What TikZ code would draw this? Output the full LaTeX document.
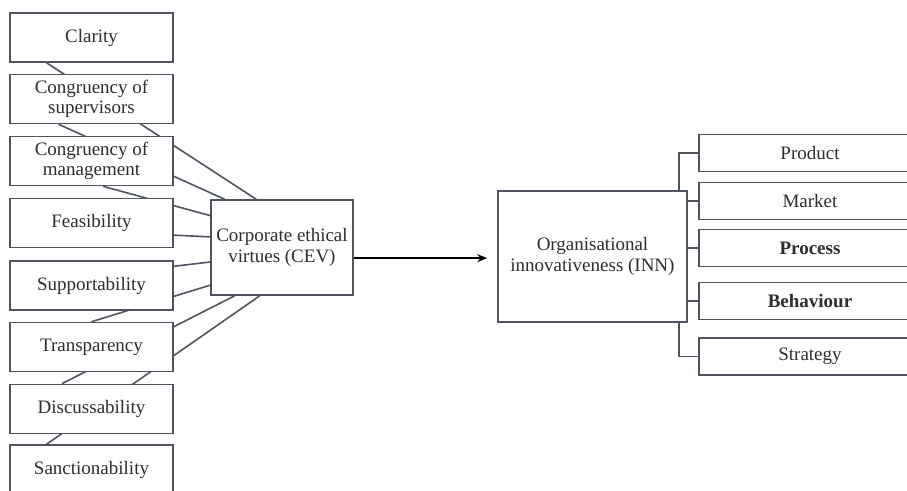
\documentclass[tikz,border=0pt]{standalone}
\usepackage{fontspec}
\setmainfont{Liberation Serif}
\usetikzlibrary{calc,backgrounds,arrows.meta}
\definecolor{linec}{RGB}{78,84,96}
\definecolor{textc}{RGB}{45,45,50}
\begin{document}
\begin{tikzpicture}[x=1pt,y=-1pt,
  box/.style={draw=linec, line width=1.6pt, fill=white, text=textc, align=center,
    font=\fontsize{19}{20.5}\selectfont, inner sep=0pt},
  lbox/.style={box, minimum width=163pt, minimum height=49pt},
  rbox/.style={box, minimum width=222pt, minimum height=37pt},
  conn/.style={draw=linec, line width=1.6pt}]
\useasboundingbox (0,0) rectangle (907,490);
% left boxes
\node[lbox] (clar) at (91.5,37.5) {Clarity};
\node[lbox] (sup) at (91.5,99) {Congruency of\\supervisors};
\node[lbox] (man) at (91.5,161) {Congruency of\\management};
\node[lbox] (feas) at (91.5,223) {Feasibility};
\node[lbox] (supp) at (91.5,285.5) {Supportability};
\node[lbox] (trans) at (91.5,347) {Transparency};
\node[lbox] (disc) at (91.5,409) {Discussability};
\node[lbox] (sanc) at (91.5,469.5) {Sanctionability};
% centre boxes
\node[box, minimum width=142pt, minimum height=95pt] (cev) at (282,247.5) {Corporate ethical\\virtues (CEV)};
\node[box, minimum width=189pt, minimum height=131pt] (inn) at (592.5,256.5) {Organisational\\innovativeness (INN)};
% right boxes
\node[rbox] (prod) at (810,153) {Product};
\node[rbox] (mark) at (810,201) {Market};
\node[rbox] (proc) at (810,248) {\bfseries Process};
\node[rbox] (beh) at (810,301) {\bfseries Behaviour};
\node[rbox] (strat) at (810,356.5) {Strategy};
% lines to CEV (behind boxes)
\begin{pgfonlayer}{background}
\draw[conn] ($(clar.south west)!0.227!(clar.south east)$) -- ($(cev.north west)!0.32!(cev.north east)$);
\draw[conn] ($(sup.south west)!0.3!(sup.south east)$) -- ($(cev.north west)!0.1!(cev.north east)$);
\draw[conn] ($(man.south west)!0.57!(man.south east)$) -- ($(cev.north west)!0.17!(cev.south west)$);
\draw[conn] ($(feas.north east)!0.74!(feas.south east)$) -- ($(cev.north west)!0.39!(cev.south west)$);
\draw[conn] ($(supp.north east)!0.12!(supp.south east)$) -- ($(cev.north west)!0.65!(cev.south west)$);
\draw[conn] ($(trans.north west)!0.5!(trans.north east)$) -- ($(cev.north west)!0.89!(cev.south west)$);
\draw[conn] ($(disc.north west)!0.32!(disc.north east)$) -- ($(cev.south west)!0.17!(cev.south east)$);
\draw[conn] ($(sanc.north west)!0.227!(sanc.north east)$) -- ($(cev.south west)!0.345!(cev.south east)$);
\end{pgfonlayer}
% arrow CEV -> INN
\coordinate (aout) at ($(cev.north east)!0.61!(cev.south east)$);
\draw[conn, draw=black, line width=1.3pt, -{Stealth[length=10pt,width=8pt]}, shorten >=10pt] (aout) -- (aout -| inn.west);
% right connectors
\draw[conn] ($(inn.north east)+(-9,0)$) |- (prod.west);
\draw[conn] (inn.east |- mark.west) -- (mark.west);
\draw[conn] (inn.east |- proc.west) -- (proc.west);
\draw[conn] (inn.east |- beh.west) -- (beh.west);
\draw[conn] ($(inn.south east)+(-9,0)$) |- (strat.west);
\end{tikzpicture}
\end{document}
